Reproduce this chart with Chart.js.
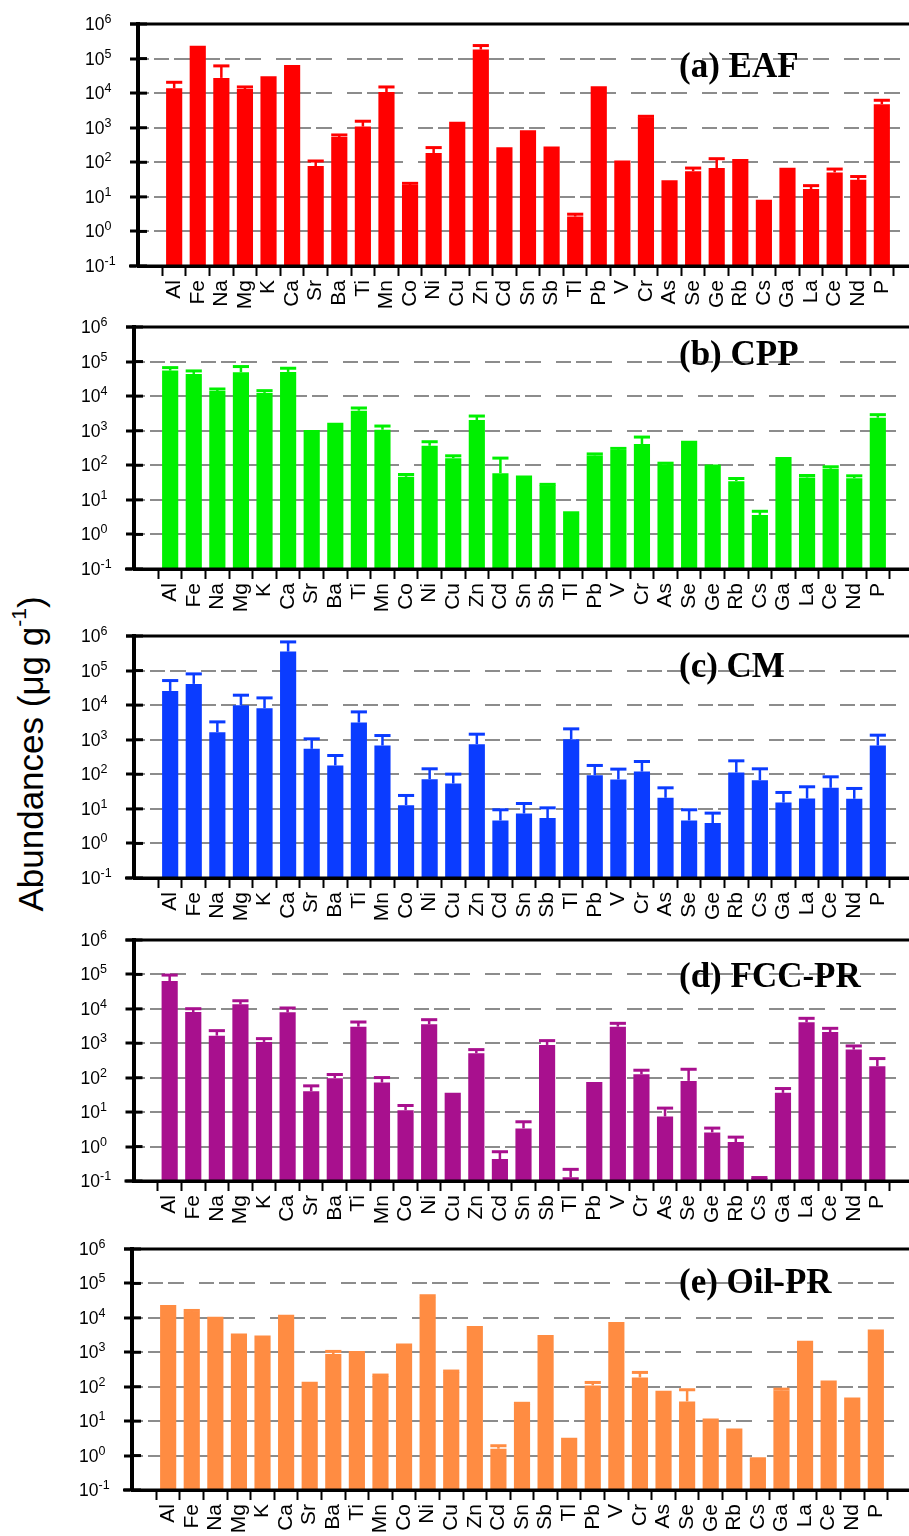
<!DOCTYPE html>
<html lang="en">
<head>
<meta charset="utf-8">
<title>Abundances</title>
<script src="https://cdn.jsdelivr.net/npm/chart.js@4.4.1/dist/chart.umd.min.js"></script>
<style>
    html, body { margin: 0; padding: 0; background: #fff; overflow: hidden; }
    #pagina { position: relative; width: 909px; height: 1536px; overflow: hidden; background: #fff; }
    .painel { position: absolute; left: 0; }
    #tituloEixoY {
        position: absolute; left: 31px; top: 754px;
        transform: translate(-50%, -50%) rotate(-90deg);
        font: 35px "Liberation Sans", Arial, sans-serif;
        white-space: nowrap; color: #000;
    }
    #tituloEixoY sup { font-size: 0.6em; vertical-align: 0.8em; line-height: 0; }
</style>
</head>
<body>
<div id="pagina">
    <div id="tituloEixoY">Abundances (μg g<sup>-1</sup>)</div>
</div>
<script>
// ELEMENTOS DO EIXO X
const elementos = ['Al', 'Fe', 'Na', 'Mg', 'K', 'Ca', 'Sr', 'Ba', 'Ti', 'Mn', 'Co', 'Ni', 'Cu', 'Zn', 'Cd', 'Sn',
    'Sb', 'Tl', 'Pb', 'V', 'Cr', 'As', 'Se', 'Ge', 'Rb', 'Cs', 'Ga', 'La', 'Ce', 'Nd', 'P'];

// EXPOENTES DAS MARCAS DO EIXO Y (10^-1 ATÉ 10^6)
const expoentes = [-1, 0, 1, 2, 3, 4, 5, 6];

// (a) EAF
const eafValores = [13900, 233000, 27600, 13200, 30800, 65600, 78, 540, 1080, 10800, 22, 186, 1500, 182000, 272, 844,
    284, 2.7, 15800, 112, 2000, 30, 55, 68, 125, 8.3, 70, 16.9, 51, 31, 4770];
const eafErros = [6700, 0, 33800, 1900, 0, 0, 31, 77, 460, 4300, 2.6, 80, 0, 56000, 0, 0,
    0, 0.45, 0, 0, 140, 0, 13, 59, 0, 0, 0, 4.2, 12.7, 7.7, 1450];

// (b) CPP
const cppValores = [54800, 43900, 14100, 49100, 12400, 50200, 1045, 1706, 3800, 1069, 46.4, 367, 161, 2037, 59.3, 50.7,
    26.6, 3.93, 193, 275, 411, 108, 513, 106, 34.8, 3.67, 173, 44.4, 79.3, 42.5, 2380];
const cppErros = [12000, 9700, 2000, 22600, 2000, 13900, 0, 0, 740, 296, 7.8, 113, 27, 620, 102, 0,
    1.5, 0.3, 20, 33, 244, 7, 0, 0, 6.7, 1.0, 0, 6.3, 11.3, 7.1, 530];

// (c) CM
const cmValores = [25800, 41200, 1650, 10000, 8150, 354000, 545, 180, 3140, 679, 12.8, 72.3, 54.2, 743, 4.62, 7.36,
    5.4, 1035, 94.4, 70.8, 120, 20.9, 4.62, 3.87, 113, 67.6, 15.3, 20.0, 40.6, 19.6, 679];
const cmErros = [25600, 38900, 1630, 9400, 8050, 320000, 514, 169, 3240, 642, 11.6, 71.7, 46.8, 702, 4.78, 6.94,
    5.3, 1025, 85.6, 70.2, 114, 19.7, 4.78, 3.66, 132, 76.4, 14.5, 23.5, 43.9, 19.3, 673];

// (d) FCC-PR
const fccValores = [64100, 8090, 1667, 13500, 1094, 7920, 40.6, 96.8, 3040, 72.4, 11.4, 3560, 36.3, 513, 0.434, 3.37,
    895, 0.128, 75.7, 3040, 126, 7.48, 80.9, 2.58, 1.35, 0.122, 36.3, 4060, 2130, 655, 215];
const fccErros = [31600, 2010, 663, 3700, 271, 2680, 17.4, 27.2, 1110, 28.6, 4.2, 1290, 0, 142, 0.274, 1.88,
    300, 0.09, 0, 760, 39, 5.62, 95, 0.86, 0.53, 0.004, 12.2, 1250, 590, 182, 145];

// (e) OIL-PR
const oilValores = [23500, 15000, 10800, 3530, 3090, 12300, 139, 887, 1084, 204, 1811, 40100, 266, 5770, 1.58, 32.0,
    3160, 3.3, 109, 7530, 186, 76.4, 37.4, 12.0, 6.15, 0.757, 78.2, 2160, 152, 48.9, 4610];
const oilErros = [0, 1400, 0, 0, 0, 0, 0, 173, 0, 14, 0, 3800, 19, 0, 0.35, 1,
    0, 0, 24, 0, 74, 0, 44.2, 0, 0, 0.05, 6.8, 0, 0, 0, 0];

// CONFIGURAÇÃO DE CADA PAINEL (POSIÇÃO E COR)
const paineis = [
    { titulo: '(a) EAF', valores: eafValores, erros: eafErros, cor: '#ff0000', topo: 24, altura: 242, eixoEsq: 138, tituloBase: 53 },
    { titulo: '(b) CPP', valores: cppValores, erros: cppErros, cor: '#00f000', topo: 327, altura: 242, eixoEsq: 134, tituloBase: 38 },
    { titulo: '(c) CM', valores: cmValores, erros: cmErros, cor: '#0b3cff', topo: 636, altura: 242, eixoEsq: 134, tituloBase: 41 },
    { titulo: '(d) FCC-PR', valores: fccValores, erros: fccErros, cor: '#a8108e', topo: 940, altura: 241, eixoEsq: 133.5, tituloBase: 47 },
    { titulo: '(e) Oil-PR', valores: oilValores, erros: oilErros, cor: '#ff8c42', topo: 1249, altura: 241, eixoEsq: 132, tituloBase: 44 }
];

const FONTE = '"Liberation Sans", Arial, sans-serif';
const MARGEM_TOPO = 14;
const ALTURA_EIXO_X = 46;
const LARGURA_AREA = 780;

// PLUGIN DAS BARRAS DE ERRO (SÓ A PARTE SUPERIOR)
function criarPluginErros(painel) {
    return {
        id: 'barrasErro',
        afterDatasetsDraw(chart) {
            const { ctx, scales: { y } } = chart;
            const barras = chart.getDatasetMeta(0).data;
            ctx.save();
            ctx.strokeStyle = painel.cor;
            barras.forEach((barra, i) => {
                const erro = painel.erros[i];
                if (!erro) return;
                const yErro = y.getPixelForValue(painel.valores[i] + erro);
                const meia = barra.width / 2;
                ctx.lineWidth = 2.5;
                ctx.beginPath();
                ctx.moveTo(barra.x, barra.y);
                ctx.lineTo(barra.x, yErro);
                ctx.stroke();
                ctx.lineWidth = 3;
                ctx.beginPath();
                ctx.moveTo(barra.x - meia, yErro);
                ctx.lineTo(barra.x + meia, yErro);
                ctx.stroke();
            });
            ctx.restore();
        }
    };
}

// PLUGIN DA MOLDURA, RÓTULOS 10^n E TÍTULO DO PAINEL
function criarPluginMoldura(painel) {
    return {
        id: 'moldura',
        afterDraw(chart) {
            const { ctx, chartArea: { left, right, top, bottom }, scales: { y } } = chart;
            ctx.save();
            ctx.strokeStyle = '#000';
            ctx.lineWidth = 3;
            // LINHA SUPERIOR E EIXO X POR CIMA DAS BARRAS
            ctx.beginPath();
            ctx.moveTo(left - 8, top);
            ctx.lineTo(right, top);
            ctx.moveTo(left - 9, bottom);
            ctx.lineTo(right, bottom);
            ctx.stroke();
            // MARCAS PARA DENTRO E RÓTULOS
            ctx.fillStyle = '#000';
            ctx.textAlign = 'left';
            ctx.textBaseline = 'alphabetic';
            y.ticks.forEach(t => {
                const yy = y.getPixelForValue(t.value);
                ctx.beginPath();
                ctx.moveTo(left, yy);
                ctx.lineTo(left + 9, yy);
                ctx.stroke();
                const xRot = left - 53;
                ctx.font = '17.5px ' + FONTE;
                ctx.fillText('10', xRot, yy + 6);
                const larg = ctx.measureText('10').width;
                ctx.font = '12.5px ' + FONTE;
                ctx.fillText(String(Math.round(Math.log10(t.value))), xRot + larg, yy - 1);
            });
            // TÍTULO
            ctx.font = 'bold 35px "Liberation Serif", "Times New Roman", serif';
            ctx.fillText(painel.titulo, 679, top + painel.tituloBase);
            ctx.restore();
        }
    };
}

// CRIA UM PAINEL COM O SEU GRÁFICO
function criarPainel(painel) {
    const canvas = document.createElement('canvas');
    canvas.className = 'painel';
    canvas.width = Math.ceil(painel.eixoEsq + LARGURA_AREA);
    canvas.height = MARGEM_TOPO + painel.altura + ALTURA_EIXO_X;
    canvas.style.top = (painel.topo - MARGEM_TOPO) + 'px';
    document.getElementById('pagina').appendChild(canvas);

    new Chart(canvas, {
        type: 'bar',
        data: {
            datasets: [{
                data: painel.valores.map((v, i) => ({ x: i, y: v })),
                backgroundColor: painel.cor,
                borderWidth: 0,
                barPercentage: 0.685,
                categoryPercentage: 1
            }]
        },
        options: {
            responsive: false,
            animation: false,
            devicePixelRatio: 1,
            layout: { padding: { top: MARGEM_TOPO, left: 0, right: Math.ceil(painel.eixoEsq + LARGURA_AREA) - painel.eixoEsq - LARGURA_AREA, bottom: 0 } },
            plugins: {
                legend: { display: false },
                tooltip: { enabled: false },
                title: { display: false }
            },
            scales: {
                x: {
                    type: 'linear',
                    min: -1,
                    max: 31,
                    grid: { drawOnChartArea: false, drawTicks: true, tickLength: 10, tickWidth: 2, tickColor: '#000' },
                    border: { display: true, color: '#000', width: 3 },
                    ticks: {
                        autoSkip: false,
                        minRotation: 90,
                        maxRotation: 90,
                        padding: 4,
                        color: '#000',
                        font: { family: FONTE, size: 21 },
                        callback: v => elementos[v] ?? ''
                    },
                    afterBuildTicks: s => { s.ticks = elementos.map((_, i) => ({ value: i })); },
                    afterFit: s => { s.height = ALTURA_EIXO_X; s.paddingLeft = 0; s.paddingRight = 0; }
                },
                y: {
                    type: 'logarithmic',
                    min: 0.1,
                    max: 1e6,
                    grid: { color: '#8c8c8c', lineWidth: 2, drawTicks: true, tickLength: 8, tickWidth: 3, tickColor: '#000' },
                    border: { display: true, color: '#000', width: 4, dash: [15, 5, 15, 5, 16, 15], dashOffset: 6 },
                    ticks: { display: false },
                    afterBuildTicks: s => { s.ticks = expoentes.map(k => ({ value: Math.pow(10, k) })); },
                    afterFit: s => { s.width = painel.eixoEsq; s.paddingTop = 0; s.paddingBottom = 0; }
                }
            }
        },
        plugins: [criarPluginErros(painel), criarPluginMoldura(painel)]
    });
}

paineis.forEach(criarPainel);
</script>
</body>
</html>
